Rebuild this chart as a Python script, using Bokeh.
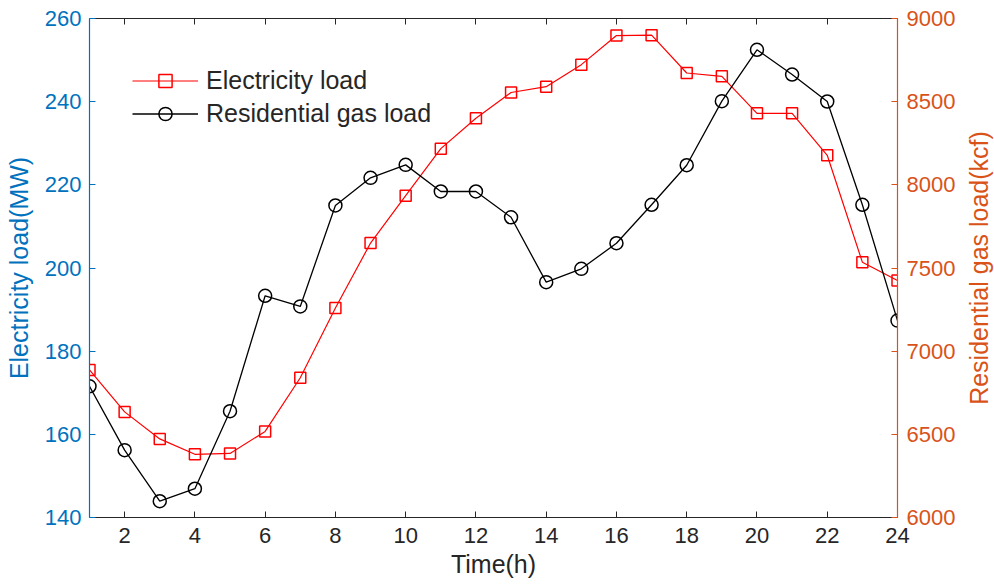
import math
from bokeh.plotting import figure
from bokeh.models import Range1d, LinearAxis, FixedTicker, Legend, LegendItem, Label
from bokeh.embed import file_html
from bokeh.resources import INLINE

# ---- data ----
hours = list(range(1, 25))
electricity_mw = [175.5, 165.4, 158.9, 155.2, 155.4, 160.7, 173.6, 190.4, 206.0, 217.4,
                  228.7, 236.0, 242.2, 243.6, 248.9, 255.9, 256.0, 246.9, 246.1, 237.2,
                  237.2, 227.1, 201.4, 197.0]
gas_kcf = [6789, 6405, 6098, 6173, 6639, 7333, 7269, 7876, 8042, 8120,
           7960, 7960, 7805, 7415, 7495, 7649, 7880, 8118, 8503, 8812,
           8663, 8501, 7880, 7184]
x_ticks = [2, 4, 6, 8, 10, 12, 14, 16, 18, 20, 22, 24]
left_ticks = [140, 160, 180, 200, 220, 240, 260]
right_ticks = [6000, 6500, 7000, 7500, 8000, 8500, 9000]

FONT = "Liberation Sans"
BLUE = "#0072BD"
ORANGE = "#D95319"
DARK = "#262626"
TICK_FS = "22px"
LABEL_FS = "25px"

x_lo, x_hi = hours[0], hours[-1]
left_lo, left_hi = left_ticks[0], left_ticks[-1]
right_lo, right_hi = right_ticks[0], right_ticks[-1]

p = figure(width=994, height=586, output_backend="svg", toolbar_location=None,
           x_range=Range1d(x_lo, x_hi), y_range=Range1d(left_lo, left_hi),
           min_border_left=89, min_border_right=97, min_border_top=18, min_border_bottom=69)
p.xgrid.visible = False
p.ygrid.visible = False
p.outline_line_color = None
p.background_fill_color = "white"
p.border_fill_color = "white"
p.extra_y_ranges = {"gas": Range1d(right_lo, right_hi)}


def style_axis(ax, color, label_color):
    ax.axis_line_color = color
    ax.axis_line_width = 1.2
    ax.major_tick_line_color = color
    ax.major_tick_in = 6
    ax.major_tick_out = 0
    ax.minor_tick_line_color = None
    ax.major_label_text_color = label_color
    ax.major_label_text_font = FONT
    ax.major_label_text_font_size = TICK_FS
    ax.axis_label_text_color = label_color
    ax.axis_label_text_font = FONT
    ax.axis_label_text_font_size = LABEL_FS
    ax.axis_label_text_font_style = "normal"


# bottom axis
xa = p.xaxis[0]
xa.ticker = FixedTicker(ticks=x_ticks)
style_axis(xa, DARK, DARK)
xa.axis_label = "Time(h)"
xa.major_label_standoff = 10
xa.axis_label_standoff = 4

# left axis
ya = p.yaxis[0]
ya.ticker = FixedTicker(ticks=left_ticks)
style_axis(ya, BLUE, BLUE)
ya.axis_label = "Electricity load(MW)"
ya.major_label_standoff = 8
ya.axis_label_standoff = 9

# right axis (its title is drawn as a label reading bottom-to-top)
ra = LinearAxis(y_range_name="gas", ticker=FixedTicker(ticks=right_ticks))
style_axis(ra, ORANGE, ORANGE)
ra.major_label_standoff = 9
p.add_layout(ra, "right")

right_title = Label(x=x_hi, y=(right_lo + right_hi) / 2, y_range_name="gas",
                    x_offset=81, text="Residential gas load(kcf)", angle=math.pi / 2,
                    text_align="center", text_baseline="middle",
                    text_font=FONT, text_font_size=LABEL_FS, text_color=ORANGE)
p.add_layout(right_title, "right")

# top axis (ticks only, labels not drawn)
ta = LinearAxis(ticker=FixedTicker(ticks=x_ticks))
style_axis(ta, DARK, DARK)
ta.major_label_text_color = None
ta.major_label_text_font_size = "1px"
ta.major_label_standoff = 0
p.add_layout(ta, "above")

# series
el_line = p.line(hours, electricity_mw, line_color="#FF0000", line_width=1.2)
el_pts = p.scatter(hours, electricity_mw, marker="square", size=11,
                   line_color="#FF0000", fill_color=None, line_width=1.5)
gas_line = p.line(hours, gas_kcf, line_color="black", line_width=1.3, y_range_name="gas")
gas_pts = p.scatter(hours, gas_kcf, marker="circle", size=13, line_color="black",
                    fill_color=None, line_width=1.5, y_range_name="gas")

legend = Legend(items=[
    LegendItem(label="Electricity load", renderers=[el_line, el_pts]),
    LegendItem(label="Residential gas load", renderers=[gas_line, gas_pts]),
], location=(43, 387))
legend.padding = 0
legend.margin = 0
legend.spacing = 0
legend.border_line_color = None
legend.background_fill_alpha = 0
legend.glyph_width = 66
legend.glyph_height = 33
legend.label_height = 33
legend.label_standoff = 8
legend.label_text_font = FONT
legend.label_text_font_size = "25px"
legend.label_text_color = DARK
p.add_layout(legend, "center")

open("out.html", "w").write(file_html(p, INLINE))
